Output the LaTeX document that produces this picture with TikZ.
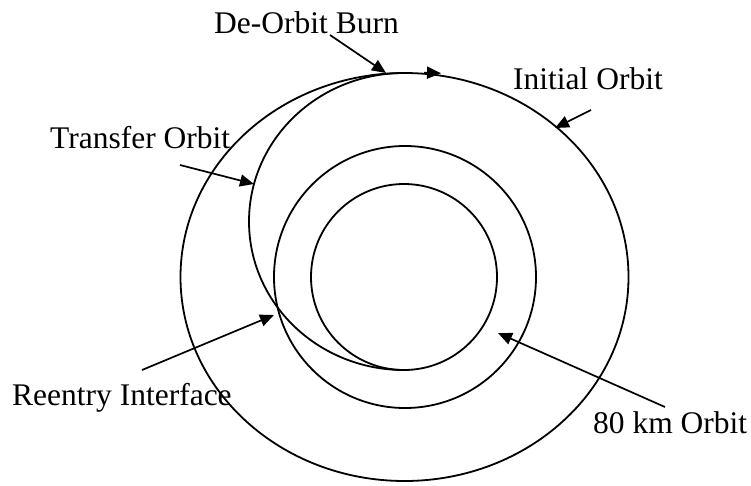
\documentclass[tikz,border=0pt]{standalone}
\usepackage{fontspec}
\setmainfont{Liberation Serif}
\usetikzlibrary{arrows.meta}
\begin{document}
\begin{tikzpicture}[x=1pt,y=-1pt,
  orbit/.style={line width=1.8pt},
  lbl/.style={anchor=base west,inner sep=0pt,font=\fontsize{31.5}{36}\selectfont},
  pointer/.style={line width=1.7pt,-{Triangle[length=14pt,width=12pt]}}]
\useasboundingbox (0,0) rectangle (751,485);
% orbits
\draw[orbit] (404.5,277) ellipse [x radius=224, y radius=204];
\draw[orbit] (405,277) circle [radius=131];
\draw[orbit] (404,277) circle [radius=93];
\draw[orbit] (404,73) arc[start angle=270, end angle=90, x radius=155, y radius=148.5];
% direction marker on initial orbit
\coordinate (m0) at (424,72.6);
\coordinate (m1) at (441,73.2);
\draw[pointer] (m0) -- (m1);
% labels
\node[lbl] (deorbit) at (214,33) {De-Orbit Burn};
\node[lbl] (initial) at (513,89) {Initial Orbit};
\node[lbl] (transfer) at (50,148) {Transfer Orbit};
\node[lbl] (reentry) at (12,405) {Reentry Interface};
\node[lbl] (km80) at (593,433) {80 km Orbit};
% pointer coordinates
\coordinate (d0) at (330,35);
\coordinate (d1) at (386,73);
\coordinate (i0) at (591,110);
\coordinate (i1) at (555,128);
\coordinate (t0) at (180,165);
\coordinate (t1) at (254,184);
\coordinate (r0) at (142,370);
\coordinate (r1) at (274,315);
\coordinate (k0) at (665,407);
\coordinate (k1) at (498,333);
\draw[pointer] (d0) -- (d1);
\draw[pointer] (i0) -- (i1);
\draw[pointer] (t0) -- (t1);
\draw[pointer] (r0) -- (r1);
\draw[pointer] (k0) -- (k1);
\end{tikzpicture}
\end{document}
